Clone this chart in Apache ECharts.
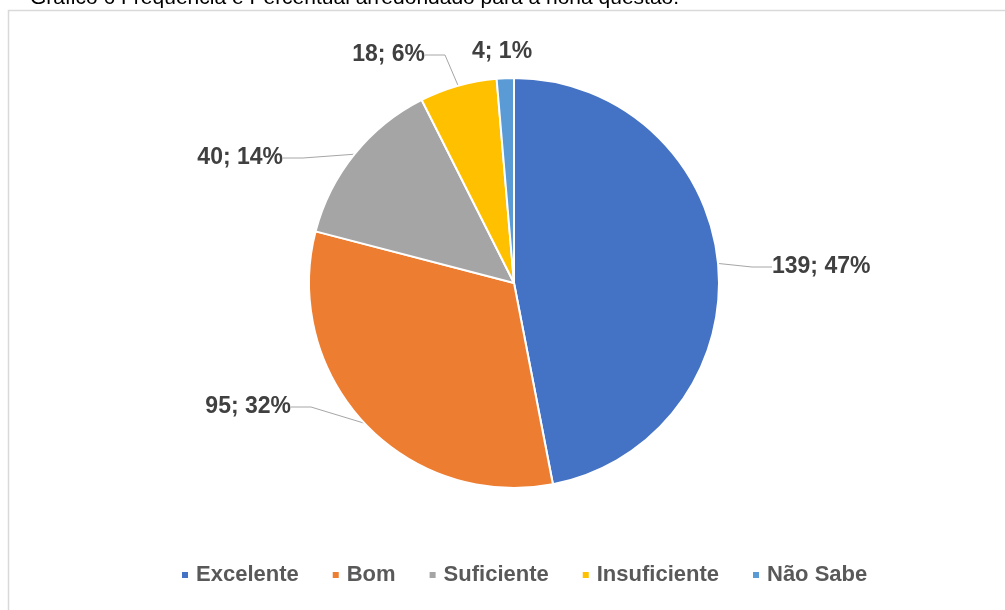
<!DOCTYPE html>
<html><head><meta charset="utf-8">
<script src="https://cdn.jsdelivr.net/npm/echarts@6/dist/echarts.min.js"></script>
<style>html,body{margin:0;padding:0;background:#fff}#c{width:1005px;height:610px}</style>
</head><body><div id="c"></div>
<script>
const categories = ['Excelente', 'Bom', 'Suficiente', 'Insuficiente', 'Não Sabe'];
const counts = [139, 95, 40, 18, 4];
const percents = [47, 32, 14, 6, 1];
const colors = ['#4472C4', '#ED7D31', '#A5A5A5', '#FFC000', '#5B9BD5'];
const titleText = 'Gráfico 6 Frequência e Percentual arredondado para a nona questão.';

// label anchor placement (styling only)
const labelPos = [
  {x: 772, y: 267, align: 'left'},
  {x: 291, y: 407, align: 'right'},
  {x: 283, y: 158, align: 'right'},
  {x: 425, y: 55, align: 'right'},
  {x: 472, y: 52, align: 'left'}
];
const showLine = [true, true, true, true, false];

const chart = echarts.init(document.getElementById('c'), null, {renderer: 'canvas'});
chart.setOption({
  animation: false,
  title: {
    text: titleText, left: 25, top: -17,
    textStyle: {fontFamily: 'Liberation Sans, Arial', fontSize: 21, fontWeight: 'normal', color: '#000'}
  },
  graphic: [{
    type: 'rect', shape: {x: 8.5, y: 10.5, width: 1010, height: 620},
    style: {fill: '#fff', stroke: '#D9D9D9', lineWidth: 1.5}, z: -10
  }],
  legend: {
    bottom: 19, left: 175, itemWidth: 8, itemHeight: 8, itemGap: 32,
    icon: 'rect',
    textStyle: {fontFamily: 'Liberation Sans, Arial', fontSize: 22, fontWeight: 'bold', color: '#595959', padding: [0, 0, 0, 2]},
    data: categories
  },
  series: [{
    type: 'pie', center: [514, 283], radius: 205, startAngle: 90, clockwise: true,
    color: colors,
    itemStyle: {borderColor: '#fff', borderWidth: 2},
    data: categories.map((c, i) => ({name: c, value: counts[i], labelLine: {show: showLine[i]}})),
    label: {
      show: true,
      formatter: p => counts[p.dataIndex] + '; ' + percents[p.dataIndex] + '%',
      fontFamily: 'Liberation Sans, Arial', fontWeight: 'bold', fontSize: 23, color: '#404040'
    },
    labelLine: {show: true, lineStyle: {color: '#A6A6A6', width: 1}, length: 20, length2: 20},
    labelLayout: p => {
      const l = labelPos[p.dataIndex];
      return {x: l.x, y: l.y, align: l.align, verticalAlign: 'middle'};
    }
  }]
});
</script></body></html>
